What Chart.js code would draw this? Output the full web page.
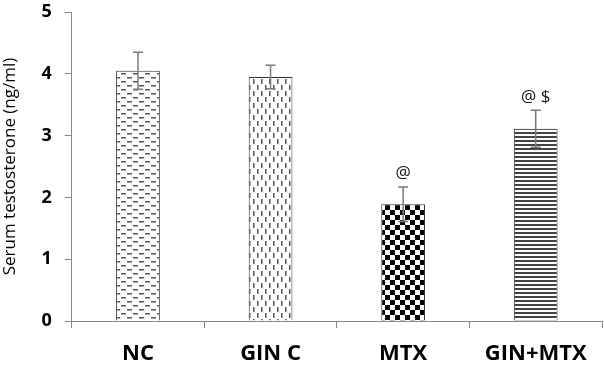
<!DOCTYPE html>
<html>
<head>
<meta charset="utf-8">
<script src="https://cdn.jsdelivr.net/npm/chart.js@4/dist/chart.umd.min.js"></script>
<style>
  html, body { margin: 0; padding: 0; background: #fff; }
  #wrap { width: 604px; height: 365px; }
</style>
</head>
<body>
<div id="wrap"><canvas id="chart" width="604" height="365"></canvas></div>
<script>
const categories = ['NC', 'GIN C', 'MTX', 'GIN+MTX']
const means = [4.05, 3.95, 1.89, 3.11]
const errors = [0.3, 0.19, 0.28, 0.3]
const marks = ['', '', '@', '@ $']
const yTicks = [0, 1, 2, 3, 4, 5]

// fill patterns for each bar
const makePattern = (kind) => {
  const c = document.createElement('canvas')
  const g = c.getContext('2d')
  if (kind === 'hdash') {
    c.width = 12; c.height = 8
    g.fillStyle = '#fff'; g.fillRect(0, 0, 12, 8)
    g.fillStyle = '#555'
    g.fillRect(1, 1, 5, 1.5)
    g.fillRect(7, 5, 5, 1.5)
  } else if (kind === 'vdash') {
    c.width = 8; c.height = 12
    g.fillStyle = '#fff'; g.fillRect(0, 0, 8, 12)
    g.fillStyle = '#555'
    g.fillRect(1, 1, 1.5, 5)
    g.fillRect(5, 7, 1.5, 5)
  } else if (kind === 'check') {
    c.width = 10; c.height = 10
    g.fillStyle = '#fff'; g.fillRect(0, 0, 10, 10)
    g.fillStyle = '#000'
    g.fillRect(0, 0, 5, 5)
    g.fillRect(5, 5, 5, 5)
  } else {
    c.width = 4; c.height = 4
    g.fillStyle = '#fff'; g.fillRect(0, 0, 4, 4)
    g.fillStyle = '#444'
    g.fillRect(0, 0, 4, 2)
  }
  const ctx = document.getElementById('chart').getContext('2d')
  return ctx.createPattern(c, 'repeat')
}

const fills = [makePattern('hdash'), makePattern('vdash'), makePattern('check'), makePattern('hline')]

// error bars and significance marks
const errorBars = {
  id: 'errorBars',
  afterDatasetsDraw(chart) {
    const ctx = chart.ctx
    const y = chart.scales.y
    const meta = chart.getDatasetMeta(0)
    ctx.save()
    meta.data.forEach((bar, i) => {
      const top = y.getPixelForValue(means[i] + errors[i])
      const bot = y.getPixelForValue(means[i] - errors[i])
      ctx.strokeStyle = '#7a7a7a'
      ctx.lineWidth = 1.5
      ctx.beginPath()
      ctx.moveTo(bar.x, top); ctx.lineTo(bar.x, bot)
      ctx.moveTo(bar.x - 5, top); ctx.lineTo(bar.x + 5, top)
      ctx.moveTo(bar.x - 5, bot); ctx.lineTo(bar.x + 5, bot)
      ctx.stroke()
      if (marks[i]) {
        ctx.fillStyle = '#111'
        ctx.font = '17px "Open Sans", sans-serif'
        ctx.textAlign = 'center'
        ctx.textBaseline = 'bottom'
        ctx.fillText(marks[i], bar.x, top - 5)
      }
    })
    ctx.restore()
  },
}

new Chart(document.getElementById('chart'), {
  type: 'bar',
  data: {
    labels: categories,
    datasets: [{
      data: means,
      backgroundColor: fills,
      borderColor: '#333',
      borderWidth: 1,
      barPercentage: 0.33,
      categoryPercentage: 1,
    }],
  },
  options: {
    responsive: false,
    animation: false,
    layout: { padding: { top: 0, right: 2, bottom: 0, left: 0 } },
    plugins: {
      legend: { display: false },
      tooltip: { enabled: false },
    },
    scales: {
      x: {
        afterFit: (scale) => { scale.height = 44 },
        grid: { display: true, drawOnChartArea: false, offset: true, tickLength: 7, color: '#888' },
        border: { color: '#888', width: 1 },
        ticks: {
          color: '#000',
          font: { family: '"Open Sans", sans-serif', size: 22, weight: 'bold' },
          padding: 13,
        },
      },
      y: {
        min: 0,
        max: 5,
        afterBuildTicks: (scale) => { scale.ticks = yTicks.map((v) => ({ value: v })) },
        afterFit: (scale) => { scale.paddingTop = 12 },
        grid: { display: true, drawOnChartArea: false, tickLength: 7, color: '#888' },
        border: { color: '#888', width: 1 },
        ticks: {
          color: '#000',
          font: { family: '"Open Sans", sans-serif', size: 18, weight: 'bold' },
          padding: 13,
        },
        title: {
          display: true,
          text: 'Serum testosterone (ng/ml)',
          color: '#000',
          font: { family: '"Open Sans", sans-serif', size: 17 },
          padding: { top: 0, bottom: 8 },
        },
      },
    },
  },
  plugins: [errorBars],
})
</script>
</body>
</html>
